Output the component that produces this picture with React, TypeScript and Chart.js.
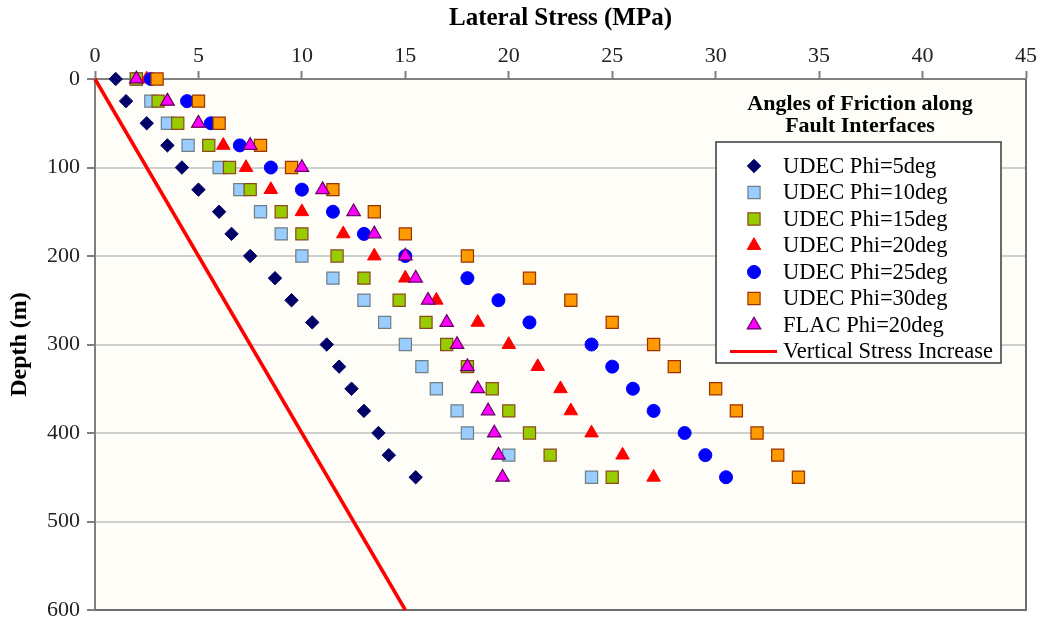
import React, { useEffect, useRef } from "react";
import { Chart, registerables } from "chart.js";

Chart.register(...registerables);

// ---------- data ----------
const depths = [0, 25, 50, 75, 100, 125, 150, 175, 200, 225, 250, 275, 300, 325, 350, 375, 400, 425, 450];

const udecPhi5 = [1.0, 1.5, 2.5, 3.5, 4.2, 5.0, 6.0, 6.6, 7.5, 8.7, 9.5, 10.5, 11.2, 11.8, 12.4, 13.0, 13.7, 14.2, 15.5];
const udecPhi10 = [2.0, 2.7, 3.5, 4.5, 6.0, 7.0, 8.0, 9.0, 10.0, 11.5, 13.0, 14.0, 15.0, 15.8, 16.5, 17.5, 18.0, 20.0, 24.0];
const udecPhi15 = [2.0, 3.05, 4.0, 5.5, 6.5, 7.5, 9.0, 10.0, 11.7, 13.0, 14.7, 16.0, 17.0, 18.0, 19.2, 20.0, 21.0, 22.0, 25.0];
const udecPhi20 = [2.5, 3.5, 5.0, 6.2, 7.3, 8.5, 10.0, 12.0, 13.5, 15.0, 16.5, 18.5, 20.0, 21.4, 22.5, 23.0, 24.0, 25.5, 27.0];
const udecPhi25 = [2.7, 4.45, 5.6, 7.0, 8.5, 10.0, 11.5, 13.0, 15.0, 18.0, 19.5, 21.0, 24.0, 25.0, 26.0, 27.0, 28.5, 29.5, 30.5];
const udecPhi30 = [3.0, 5.0, 6.0, 8.0, 9.5, 11.5, 13.5, 15.0, 18.0, 21.0, 23.0, 25.0, 27.0, 28.0, 30.0, 31.0, 32.0, 33.0, 34.0];
const flacPhi20 = [2.0, 3.5, 5.0, 7.5, 10.0, 11.0, 12.5, 13.5, 15.0, 15.5, 16.1, 17.0, 17.5, 18.0, 18.5, 19.0, 19.3, 19.5, 19.7];

const verticalStressDepths = [0, 600];
const verticalStressValues = [0, 15];

const seriesLabels = [
  "UDEC Phi=5deg",
  "UDEC Phi=10deg",
  "UDEC Phi=15deg",
  "UDEC Phi=20deg",
  "UDEC Phi=25deg",
  "UDEC Phi=30deg",
  "FLAC Phi=20deg",
  "Vertical Stress Increase",
];

const xAxisTitle = "Lateral Stress (MPa)";
const yAxisTitle = "Depth (m)";
const legendTitle = ["Angles of Friction along", "Fault Interfaces"];

const FONT = "'Liberation Serif', 'Times New Roman', serif";

const toPoints = (xs: number[], ys: number[]) => xs.map((x, i) => ({ x, y: ys[i] }));

type MarkerStyle = {
  style: string;
  radius: number;
  bg: string;
  border: string;
  borderWidth: number;
};

function drawMarker(ctx: CanvasRenderingContext2D, m: MarkerStyle, x: number, y: number) {
  const r = m.radius;
  ctx.beginPath();
  if (m.style === "circle") {
    ctx.arc(x, y, r, 0, Math.PI * 2);
  } else if (m.style === "rect") {
    const s = Math.SQRT1_2 * r;
    ctx.rect(x - s, y - s, 2 * s, 2 * s);
  } else if (m.style === "rectRot") {
    ctx.moveTo(x - r, y);
    ctx.lineTo(x, y - r);
    ctx.lineTo(x + r, y);
    ctx.lineTo(x, y + r);
    ctx.closePath();
  } else if (m.style === "triangle") {
    let a = 0;
    ctx.moveTo(x + Math.sin(a) * r, y - Math.cos(a) * r);
    a += (2 * Math.PI) / 3;
    ctx.lineTo(x + Math.sin(a) * r, y - Math.cos(a) * r);
    a += (2 * Math.PI) / 3;
    ctx.lineTo(x + Math.sin(a) * r, y - Math.cos(a) * r);
    ctx.closePath();
  }
  ctx.fillStyle = m.bg;
  ctx.fill();
  ctx.lineWidth = m.borderWidth;
  ctx.strokeStyle = m.border;
  ctx.stroke();
}

const plotBackgroundPlugin = {
  id: "plotBackground",
  beforeDraw(chart: any) {
    const { ctx, chartArea } = chart;
    ctx.save();
    ctx.fillStyle = "#FFFFFF";
    ctx.fillRect(0, 0, chart.width, chart.height);
    ctx.fillStyle = "#FEFDF8";
    ctx.fillRect(chartArea.left, chartArea.top, chartArea.right - chartArea.left, chartArea.bottom - chartArea.top);
    ctx.restore();
  },
  beforeDatasetsDraw(chart: any) {
    const { ctx, chartArea } = chart;
    ctx.save();
    ctx.strokeStyle = "#6E6E6E";
    ctx.lineWidth = 2;
    ctx.beginPath();
    ctx.moveTo(chartArea.right, chartArea.top);
    ctx.lineTo(chartArea.right, chartArea.bottom);
    ctx.lineTo(chartArea.left, chartArea.bottom);
    ctx.stroke();
    ctx.restore();
  },
};

const legendPlugin = {
  id: "frictionLegend",
  afterDraw(chart: any) {
    const ctx: CanvasRenderingContext2D = chart.ctx;
    ctx.save();
    ctx.fillStyle = "#000000";
    ctx.textAlign = "center";
    ctx.textBaseline = "middle";
    ctx.font = `bold 22px ${FONT}`;
    ctx.fillText(legendTitle[0], 860, 104);
    ctx.fillText(legendTitle[1], 860, 126);

    const boxL = 716, boxT = 142, boxW = 285, boxH = 221;
    ctx.fillStyle = "#FFFFFF";
    ctx.fillRect(boxL, boxT, boxW, boxH);
    ctx.strokeStyle = "#3A3A3A";
    ctx.lineWidth = 1.5;
    ctx.strokeRect(boxL, boxT, boxW, boxH);

    chart.data.datasets.forEach((ds: any, i: number) => {
      const y = 166 + i * 26.5;
      if (ds.showLine) {
        ctx.strokeStyle = ds.borderColor;
        ctx.lineWidth = 3;
        ctx.beginPath();
        ctx.moveTo(730, y);
        ctx.lineTo(777, y);
        ctx.stroke();
      } else {
        drawMarker(
          ctx,
          {
            style: ds.pointStyle,
            radius: ds.pointRadius,
            bg: ds.backgroundColor,
            border: ds.borderColor,
            borderWidth: ds.borderWidth,
          },
          754,
          y
        );
      }
      ctx.fillStyle = "#000000";
      ctx.textAlign = "left";
      ctx.textBaseline = "middle";
      ctx.font = `22.5px ${FONT}`;
      ctx.fillText(ds.label, 783, y + 1);
    });
    ctx.restore();
  },
};

export default function App() {
  const canvasRef = useRef<HTMLCanvasElement | null>(null);

  useEffect(() => {
    if (!canvasRef.current) return;
    const markerDataset = (
      label: string,
      values: number[],
      style: string,
      radius: number,
      bg: string,
      border: string,
      borderWidth: number,
      order: number
    ) => ({
      type: "scatter" as const,
      label,
      data: toPoints(values, depths),
      pointStyle: style,
      pointRadius: radius,
      pointHoverRadius: radius,
      backgroundColor: bg,
      borderColor: border,
      borderWidth,
      pointBorderWidth: borderWidth,
      showLine: false,
      clip: false as any,
      order,
    });

    const chart = new Chart(canvasRef.current, {
      type: "scatter",
      data: {
        datasets: [
          markerDataset(seriesLabels[0], udecPhi5, "rectRot", 6.7, "#000066", "#000066", 1, 7),
          markerDataset(seriesLabels[1], udecPhi10, "rect", 8.6, "#99CCFF", "#6F7F86", 1.2, 6),
          markerDataset(seriesLabels[2], udecPhi15, "rect", 8.6, "#99CC00", "#8A4A1E", 1.2, 5),
          markerDataset(seriesLabels[3], udecPhi20, "triangle", 7.8, "#FF0000", "#FF0000", 1, 4),
          markerDataset(seriesLabels[4], udecPhi25, "circle", 6.5, "#0000FF", "#0000FF", 1, 3),
          markerDataset(seriesLabels[5], udecPhi30, "rect", 8.6, "#FF9900", "#993300", 1.2, 2),
          markerDataset(seriesLabels[6], flacPhi20, "triangle", 7.8, "#FF00FF", "#660066", 1.2, 1),
          {
            type: "scatter" as const,
            label: seriesLabels[7],
            data: toPoints(verticalStressValues, verticalStressDepths),
            showLine: true,
            borderColor: "#FF0000",
            backgroundColor: "#FF0000",
            borderWidth: 3.5,
            pointRadius: 0,
            pointHoverRadius: 0,
            clip: false as any,
            order: 0,
          },
        ] as any,
      },
      options: {
        animation: false,
        responsive: true,
        maintainAspectRatio: false,
        layout: { padding: { top: 0, left: 0, right: 16, bottom: 11 } },
        plugins: {
          legend: { display: false },
          tooltip: { enabled: false },
        },
        scales: {
          x: {
            type: "linear",
            position: "top",
            min: 0,
            max: 45,
            ticks: {
              stepSize: 5,
              padding: 2,
              color: "#222222",
              font: { family: FONT, size: 22 },
            },
            grid: {
              drawOnChartArea: false,
              drawTicks: true,
              tickLength: 8,
              tickColor: "#808080",
              tickWidth: 2,
            },
            border: { display: true, color: "#808080", width: 2 },
            title: {
              display: true,
              text: xAxisTitle,
              color: "#000000",
              font: { family: FONT, size: 25, weight: "bold" },
              padding: { top: 4, bottom: 0 },
            },
            afterFit: (scale: any) => {
              scale.height = 79;
              scale.paddingLeft = 0;
              scale.paddingRight = 0;
            },
          },
          y: {
            type: "linear",
            position: "left",
            reverse: true,
            min: 0,
            max: 600,
            ticks: {
              stepSize: 100,
              padding: 7,
              color: "#222222",
              font: { family: FONT, size: 22 },
            },
            grid: {
              color: "#CFCFCF",
              lineWidth: 2,
              drawTicks: true,
              tickLength: 8,
              tickColor: "#808080",
              tickWidth: 2,
            },
            border: { display: true, color: "#808080", width: 2 },
            title: {
              display: true,
              text: yAxisTitle,
              color: "#000000",
              font: { family: FONT, size: 24, weight: "bold" },
              padding: { top: 5, bottom: 0 },
            },
            afterFit: (scale: any) => {
              scale.width = 95;
              scale.paddingTop = 0;
              scale.paddingBottom = 0;
            },
          },
        },
      } as any,
      plugins: [plotBackgroundPlugin, legendPlugin],
    });

    return () => chart.destroy();
  }, []);

  return (
    <div style={{ position: "fixed", left: 0, top: 0, width: 1042, height: 621, background: "#FFFFFF" }}>
      <canvas ref={canvasRef} />
    </div>
  );
}
